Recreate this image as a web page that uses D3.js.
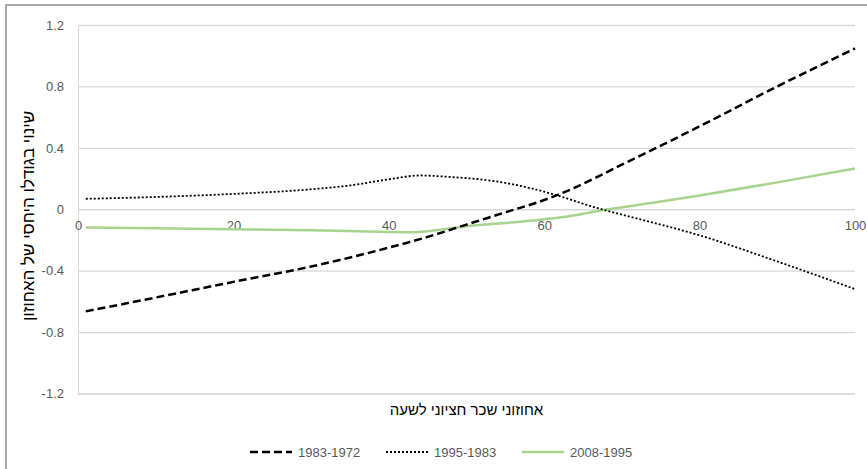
<!DOCTYPE html>
<html><head><meta charset="utf-8">
<script src="https://cdn.jsdelivr.net/npm/d3@7"></script>
<style>body{margin:0;background:#fff}svg{display:block}</style>
</head><body>
<svg id="c" width="867" height="469"></svg>
<script>
const xTicks = [0,20,40,60,80,100];
const yTicks = [1.2,0.8,0.4,0,-0.4,-0.8,-1.2];
const yTickLabels = ["1.2","0.8","0.4","0","-0.4","-0.8","-1.2"];
const seriesNames = ["1983-1972","1995-1983","2008-1995"];
const x1 = [1,10,20,30,40,45,50,55,60,63,70,80,90,100];
const v1 = [-0.665,-0.575,-0.473,-0.373,-0.25,-0.18,-0.10,-0.02,0.06,0.12,0.29,0.54,0.80,1.047];
const x2 = [1,10,20,30,35,40,44,48,54,58,62,66,70,80,90,100];
const v2 = [0.068,0.08,0.10,0.13,0.155,0.195,0.22,0.21,0.18,0.14,0.085,0.02,-0.035,-0.17,-0.34,-0.52];
const x3 = [1,10,20,30,40,43,47,50,55,60,63,68,75,80,90,100];
const v3 = [-0.118,-0.124,-0.13,-0.137,-0.148,-0.15,-0.13,-0.11,-0.09,-0.065,-0.047,-0.002,0.05,0.09,0.175,0.265];

const svg = d3.select("#c");
const font = "'Liberation Sans', Arial, sans-serif";
const gray = "#595959";
svg.append("rect").attr("x",6).attr("y",5).attr("width",880).attr("height",500)
  .attr("fill","#fff").attr("stroke","#8c8c8c").attr("stroke-width",1.5);

const x = d3.scaleLinear().domain([0,100]).range([78,855]);
const y = d3.scaleLinear().domain([-1.2,1.2]).range([393.5,25]);

// gridlines
const yAxis = d3.axisLeft(y).tickValues(yTicks).tickSize(-(855-78)).tickFormat((d,i)=>yTickLabels[i]).tickPadding(14);
const gy = svg.append("g").attr("transform","translate(78,0)").call(yAxis);
gy.select(".domain").attr("stroke","#d9d9d9");
gy.selectAll(".tick line").attr("stroke","#d9d9d9").attr("stroke-width",1.3);
gy.selectAll(".tick text").attr("fill",gray).attr("font-family",font).attr("font-size",13);

// x axis labels along y=0
const xAxis = d3.axisBottom(x).tickValues(xTicks).tickSize(0).tickPadding(12);
const gx = svg.append("g").attr("transform",`translate(0,${y(0)})`).call(xAxis);
gx.select(".domain").remove();
gx.selectAll(".tick text").attr("fill",gray).attr("font-family",font).attr("font-size",13);

const line = d3.line().x(d=>x(d[0])).y(d=>y(d[1])).curve(d3.curveMonotoneX);
const data = [
  {name:seriesNames[0], pts:d3.zip(x1,v1), color:"#000", w:2.5, dash:"8,4"},
  {name:seriesNames[1], pts:d3.zip(x2,v2), color:"#000", w:1.8, dash:"2,2"},
  {name:seriesNames[2], pts:d3.zip(x3,v3), color:"#a6d48e", w:2.5, dash:null}
];
data.slice().reverse().forEach(s=>{
  svg.append("path").attr("d",line(s.pts)).attr("fill","none").attr("stroke",s.color)
    .attr("stroke-width",s.w).attr("stroke-dasharray",s.dash);
});

// axis titles
svg.append("text").attr("x",466.5).attr("y",415).attr("text-anchor","middle")
  .attr("font-family",font).attr("font-size",15).attr("fill","#000").attr("direction","rtl")
  .text("אחוזוני שכר חציוני לשעה");
svg.append("text").attr("transform","translate(34,216) rotate(-90)").attr("text-anchor","middle")
  .attr("font-family",font).attr("font-size",17).attr("fill","#000").attr("direction","rtl")
  .text("שינוי בגודלו היחסי של האחוזון");

// legend
const lx = [250,386,522];
data.forEach((s,i)=>{
  svg.append("line").attr("x1",lx[i]).attr("x2",lx[i]+42).attr("y1",452).attr("y2",452)
    .attr("stroke",s.color).attr("stroke-width",s.w).attr("stroke-dasharray",s.dash);
  svg.append("text").attr("x",lx[i]+48).attr("y",456.5).attr("font-family",font)
    .attr("font-size",13).attr("fill",gray).text(s.name);
});
</script>
</body></html>
